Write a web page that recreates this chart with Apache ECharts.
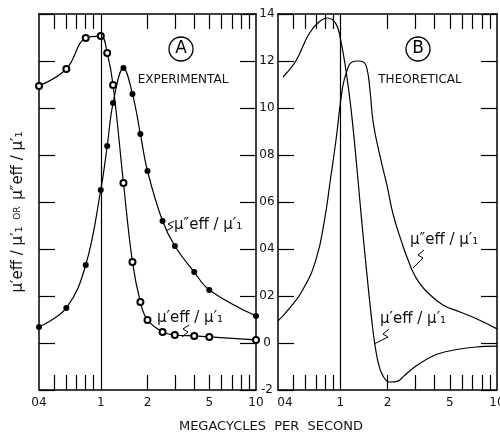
<!DOCTYPE html>
<html>
<head>
<meta charset="utf-8">
<script src="https://cdn.jsdelivr.net/npm/echarts@6/dist/echarts.min.js"></script>
<style>
  html, body { margin: 0; padding: 0; background: #fff; }
  #chart { width: 500px; height: 436px; }
</style>
</head>
<body>
<div id="chart"></div>
<script>
// panel A - experimental points (megacycles per second)
var freqExp = [0.4, 0.6, 0.8, 1.0, 1.1, 1.2, 1.4, 1.6, 1.8, 2.0, 2.5, 3, 4, 5, 10];
var muPrimeExp = [1.094, 1.166, 1.298, 1.306, 1.234, 1.098, 0.681, 0.345, 0.174, 0.098, 0.047, 0.034, 0.030, 0.026, 0.013];
var muDoublePrimeExp = [0.068, 0.149, 0.332, 0.651, 0.838, 1.021, 1.17, 1.06, 0.889, 0.732, 0.519, 0.413, 0.302, 0.226, 0.115];

// panel B - theoretical curves
var freqTheoPrime = [0.43, 0.52, 0.63, 0.73, 0.83, 0.94, 1.01, 1.09, 1.17, 1.26, 1.36, 1.46, 1.62, 1.74, 1.87, 2.05, 2.33, 2.55, 3.04, 3.9, 4.95, 7.35, 10];
var muPrimeTheo = [1.132, 1.2, 1.315, 1.366, 1.383, 1.357, 1.281, 1.153, 0.996, 0.783, 0.54, 0.328, 0.047, -0.081, -0.14, -0.166, -0.162, -0.14, -0.098, -0.055, -0.034, -0.017, -0.013];
var freqTheoDouble = [0.4, 0.47, 0.58, 0.70, 0.79, 0.86, 0.94, 1.03, 1.10, 1.19, 1.30, 1.40, 1.48, 1.55, 1.62, 1.79, 1.99, 2.17, 2.51, 2.7, 2.91, 3.2, 3.58, 4.52, 5.81, 7.46, 10];
var muDoublePrimeTheo = [0.094, 0.145, 0.23, 0.357, 0.519, 0.685, 0.868, 1.081, 1.157, 1.196, 1.2, 1.196, 1.166, 1.068, 0.94, 0.796, 0.668, 0.549, 0.413, 0.355, 0.302, 0.255, 0.217, 0.162, 0.132, 0.102, 0.06];

// ticks
var xLabelValues = [0.4, 1, 2, 5, 10];
var xTickLabels = ["04", "1", "2", "5", "10"];
var xMinorTicks = [0.5, 0.6, 0.7, 0.8, 0.9, 2, 3, 4, 5, 6, 7, 8, 9];
var yTickLabels = ["-2", "0", "02", "04", "06", "08", "10", "12", "14"];

var FONT = "DejaVu Sans";

function pairs(xs, ys) {
  return xs.map(function (x, i) { return [x, ys[i]]; });
}

function xLabelText(v) {
  for (var i = 0; i < xLabelValues.length; i++) {
    if (Math.abs(xLabelValues[i] - v) < 1e-6) return xTickLabels[i];
  }
  return "";
}

function makeXAxis(grid, pos, showLabels, shiftFirst) {
  return {
    type: "log", logBase: 10, gridIndex: grid, position: pos, min: 0.4, max: 10,
    axisLine: { show: true, onZero: false, lineStyle: { color: "#000", width: 1.5 } },
    axisTick: { show: true, inside: true, length: 15, customValues: xMinorTicks,
      lineStyle: { color: "#000", width: 1.2 } },
    axisLabel: {
      show: showLabels, customValues: xLabelValues, margin: 7,
      color: "#111", fontSize: 12, fontFamily: FONT,
      formatter: function (v) {
        var t = xLabelText(v);
        return (shiftFirst && t === "04") ? "{s|" + t + "}" : t;
      },
      rich: { s: { padding: [0, 0, 0, 14], fontSize: 12, fontFamily: FONT, color: "#111" } }
    },
    splitLine: { show: false }
  };
}

function makeYAxis(grid, pos, showLabels) {
  return {
    type: "value", gridIndex: grid, position: pos, min: -0.2, max: 1.4, interval: 0.2,
    axisLine: { show: true, onZero: false, lineStyle: { color: "#000", width: 1.5 } },
    axisTick: { show: true, inside: true, length: 16, lineStyle: { color: "#000", width: 1.2 } },
    axisLabel: {
      show: showLabels, align: "center", margin: 11,
      color: "#111", fontSize: 12, fontFamily: FONT,
      formatter: function (v) { return yTickLabels[Math.round((v + 0.2) / 0.2)]; }
    },
    splitLine: { show: false }
  };
}

var curveLine = { color: "#000", width: 1.2 };
var vLine = {
  silent: true, symbol: "none", label: { show: false },
  lineStyle: { color: "#000", width: 1.2, type: "solid" },
  data: [{ xAxis: 1 }]
};

var labelStyle = { fill: "#111", fontSize: 15, fontFamily: FONT };
var leader = { stroke: "#000", lineWidth: 1, fill: "none" };

var option = {
  animation: false,
  backgroundColor: "#fff",
  grid: [
    { left: 39, top: 14, width: 217, height: 376, outerBoundsMode: "none" },
    { left: 278, top: 14, width: 219, height: 376, outerBoundsMode: "none" }
  ],
  xAxis: [
    makeXAxis(0, "bottom", true, false),
    makeXAxis(0, "top", false, false),
    makeXAxis(1, "bottom", true, true),
    makeXAxis(1, "top", false, false)
  ],
  yAxis: [
    makeYAxis(0, "left", false),
    makeYAxis(0, "right", false),
    makeYAxis(1, "left", true),
    makeYAxis(1, "right", false)
  ],
  series: [
    {
      name: "mu' exp", type: "line", xAxisIndex: 0, yAxisIndex: 0,
      data: pairs(freqExp, muPrimeExp), smooth: 0.4,
      symbol: "emptyCircle", symbolSize: 6,
      itemStyle: { color: "#000", borderWidth: 1 },
      lineStyle: curveLine, markLine: vLine
    },
    {
      name: "mu'' exp", type: "line", xAxisIndex: 0, yAxisIndex: 0,
      data: pairs(freqExp, muDoublePrimeExp), smooth: 0.4,
      symbol: "circle", symbolSize: 6,
      itemStyle: { color: "#000" },
      lineStyle: curveLine
    },
    {
      name: "mu' theo", type: "line", xAxisIndex: 2, yAxisIndex: 2,
      data: pairs(freqTheoPrime, muPrimeTheo), smooth: 0.4,
      showSymbol: false, lineStyle: curveLine, markLine: vLine
    },
    {
      name: "mu'' theo", type: "line", xAxisIndex: 2, yAxisIndex: 2,
      data: pairs(freqTheoDouble, muDoublePrimeTheo), smooth: 0.5,
      showSymbol: false, lineStyle: curveLine
    }
  ],
  graphic: [
    // y axis title, rotated
    { type: "text", x: 18, y: 212, rotation: Math.PI / 2,
      style: { text: "{m|μ′eff / μ′₁}  {o|OR}  {m|μ″eff / μ′₁}", align: "center", verticalAlign: "middle",
        rich: { m: { fontSize: 15, fontFamily: FONT, fill: "#111" }, o: { fontSize: 9, fontFamily: FONT, fill: "#111" } } } },

    { type: "circle", shape: { cx: 181, cy: 49, r: 12 }, style: { fill: "none", stroke: "#000", lineWidth: 1.3 } },
    { type: "text", x: 181, y: 49, style: { text: "A", fill: "#000", fontSize: 17, fontFamily: FONT, align: "center", verticalAlign: "middle" } },
    { type: "text", x: 183, y: 80, style: { text: "EXPERIMENTAL", fill: "#111", fontSize: 12, fontFamily: FONT, align: "center", verticalAlign: "middle" } },
    { type: "circle", shape: { cx: 418, cy: 49, r: 12 }, style: { fill: "none", stroke: "#000", lineWidth: 1.3 } },
    { type: "text", x: 418, y: 49, style: { text: "B", fill: "#000", fontSize: 17, fontFamily: FONT, align: "center", verticalAlign: "middle" } },
    { type: "text", x: 420, y: 80, style: { text: "THEORETICAL", fill: "#111", fontSize: 12, fontFamily: FONT, align: "center", verticalAlign: "middle" } },

    { type: "text", x: 174, y: 225, style: Object.assign({ text: "μ″eff / μ′₁", verticalAlign: "middle" }, labelStyle) },
    { type: "polyline", shape: { points: [[174, 221], [168, 224], [173, 227], [166, 231]] }, style: leader },
    { type: "text", x: 157, y: 318, style: Object.assign({ text: "μ′eff / μ′₁", verticalAlign: "middle" }, labelStyle) },
    { type: "polyline", shape: { points: [[189, 325], [183, 329], [188, 332], [182, 337]] }, style: leader },

    { type: "text", x: 410, y: 240, style: Object.assign({ text: "μ″eff / μ′₁", verticalAlign: "middle" }, labelStyle) },
    { type: "polyline", shape: { points: [[424, 250], [418, 255], [423, 258], [413, 268]] }, style: leader },
    { type: "text", x: 380, y: 319, style: Object.assign({ text: "μ′eff / μ′₁", verticalAlign: "middle" }, labelStyle) },
    { type: "polyline", shape: { points: [[389, 329], [383, 334], [388, 337], [374, 344]] }, style: leader },

    { type: "text", x: 271, y: 427, style: { text: "MEGACYCLES  PER  SECOND", fill: "#111", fontSize: 13, fontFamily: FONT, align: "center", verticalAlign: "middle" } }
  ]
};

var chart = echarts.init(document.getElementById("chart"));
chart.setOption(option);
</script>
</body>
</html>
